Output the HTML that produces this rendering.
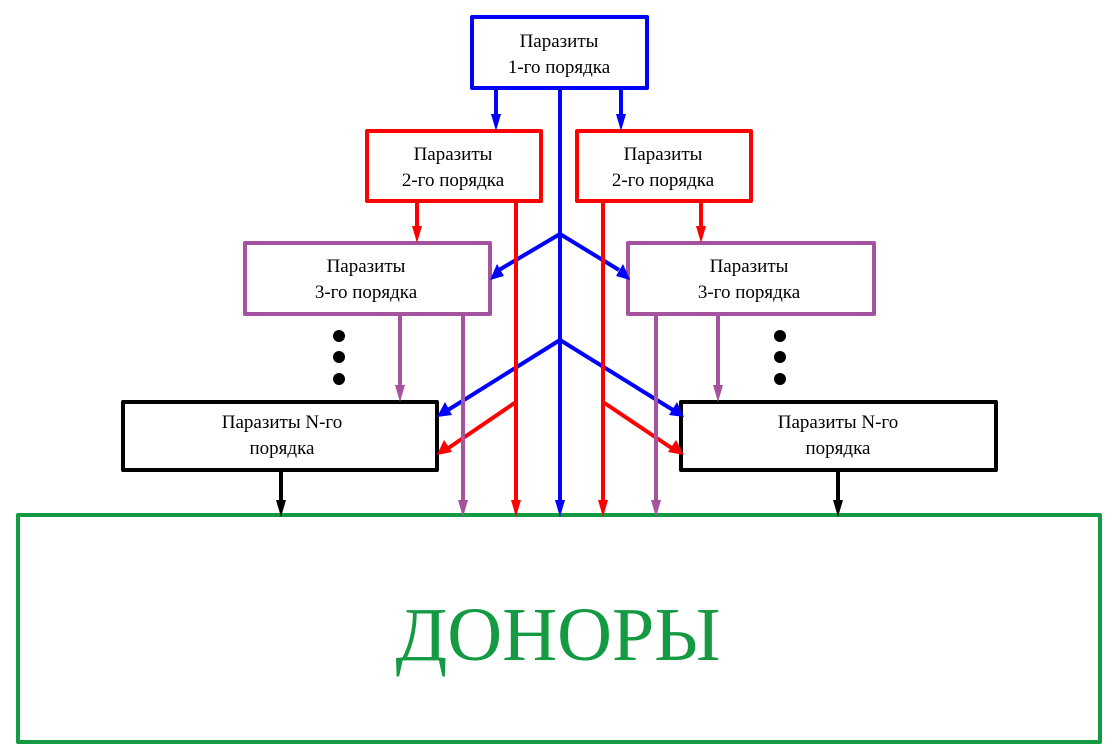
<!DOCTYPE html>
<html><head><meta charset="utf-8"><style>
html,body{margin:0;padding:0;background:#fff;}
svg{display:block;}
text{font-family:"Liberation Serif","DejaVu Serif",serif;font-size:19px;text-anchor:middle;}
</style></head><body>
<svg width="1117" height="753" viewBox="0 0 1117 753" xmlns="http://www.w3.org/2000/svg">
<defs>
<marker id="ab" markerWidth="10" markerHeight="16" refX="5" refY="15" orient="auto-start-reverse" markerUnits="userSpaceOnUse" viewBox="0 0 10 16"><path d="M0,0 L5,15 L10,0 Z" fill="#0000ff"/></marker>
</defs>
<g fill="none" stroke-width="4" stroke-linejoin="round">
<!-- boxes -->
<rect x="472" y="17" width="175" height="71" stroke="#0000ff"/>
<rect x="367" y="131" width="174" height="70" stroke="#ff0000"/>
<rect x="577" y="131" width="174" height="70" stroke="#ff0000"/>
<rect x="245" y="243" width="245" height="71" stroke="#a5529f"/>
<rect x="628" y="243" width="246" height="71" stroke="#a5529f"/>
<rect x="123" y="402" width="314" height="68" stroke="#000"/>
<rect x="681" y="402" width="315" height="68" stroke="#000"/>
<rect x="18" y="515" width="1082" height="227" stroke="#139a43"/>
<!-- blue -->
<g stroke="#0000ff">
<line x1="560" y1="88" x2="560" y2="502"/>
<line x1="496" y1="88" x2="496" y2="118"/>
<line x1="621" y1="88" x2="621" y2="118"/>
<polyline points="499,270 560,234 619,270"/>
<polyline points="448,410 560,340 673,410"/>
</g>
<!-- red -->
<g stroke="#ff0000">
<line x1="417" y1="201" x2="417" y2="230"/>
<line x1="701" y1="201" x2="701" y2="230"/>
<line x1="516" y1="201" x2="516" y2="502"/>
<line x1="603" y1="201" x2="603" y2="502"/>
<line x1="516" y1="402" x2="447" y2="449"/>
<line x1="603" y1="402" x2="673" y2="449"/>
</g>
<!-- purple -->
<g stroke="#a5529f">
<line x1="400" y1="314" x2="400" y2="390"/>
<line x1="463" y1="314" x2="463" y2="502"/>
<line x1="656" y1="314" x2="656" y2="502"/>
<line x1="718" y1="314" x2="718" y2="390"/>
</g>
<g stroke="#000">
<line x1="281" y1="470" x2="281" y2="503"/>
<line x1="838" y1="470" x2="838" y2="503"/>
</g>
</g>
<!-- arrowheads -->
<g>
<path d="M555,500 L560,517 L565,500 Z" fill="#0000ff"/>
<path d="M491,114 L496,131 L501,114 Z" fill="#0000ff"/>
<path d="M616,114 L621,131 L626,114 Z" fill="#0000ff"/>
<path d="M412,226 L417,243 L422,226 Z" fill="#ff0000"/>
<path d="M696,226 L701,243 L706,226 Z" fill="#ff0000"/>
<path d="M511,500 L516,517 L521,500 Z" fill="#ff0000"/>
<path d="M598,500 L603,517 L608,500 Z" fill="#ff0000"/>
<path d="M395,385 L400,402 L405,385 Z" fill="#a5529f"/>
<path d="M713,385 L718,402 L723,385 Z" fill="#a5529f"/>
<path d="M458,500 L463,517 L468,500 Z" fill="#a5529f"/>
<path d="M651,500 L656,517 L661,500 Z" fill="#a5529f"/>
<path d="M276,500 L281,517 L286,500 Z" fill="#000"/>
<path d="M833,500 L838,517 L843,500 Z" fill="#000"/>
<!-- diagonal heads -->
<path d="M490,280 L497,264 L504,276 Z" fill="#0000ff"/>
<path d="M630,280 L616,276 L623,264 Z" fill="#0000ff"/>
<path d="M437,417 L445,402 L452,415 Z" fill="#0000ff"/>
<path d="M684,417 L669,415 L677,402 Z" fill="#0000ff"/>
<path d="M437,455 L444,440 L452,452 Z" fill="#ff0000"/>
<path d="M684,455 L668,452 L676,440 Z" fill="#ff0000"/>
</g>
<!-- dots -->
<g fill="#000">
<circle cx="339" cy="336" r="6"/><circle cx="339" cy="357" r="6"/><circle cx="339" cy="379" r="6"/>
<circle cx="780" cy="336" r="6"/><circle cx="780" cy="357" r="6"/><circle cx="780" cy="379" r="6"/>
</g>
<!-- labels -->
<text x="559" y="47">Паразиты</text><text x="559" y="73">1-го порядка</text>
<text x="453" y="160">Паразиты</text><text x="453" y="186">2-го порядка</text>
<text x="663" y="160">Паразиты</text><text x="663" y="186">2-го порядка</text>
<text x="366" y="272">Паразиты</text><text x="366" y="298">3-го порядка</text>
<text x="749" y="272">Паразиты</text><text x="749" y="298">3-го порядка</text>
<text x="282" y="428">Паразиты N-го</text><text x="282" y="454">порядка</text>
<text x="838" y="428">Паразиты N-го</text><text x="838" y="454">порядка</text>
<text x="558" y="660" style="font-size:76px" fill="#139a43">ДОНОРЫ</text>
</svg>
</body></html>
